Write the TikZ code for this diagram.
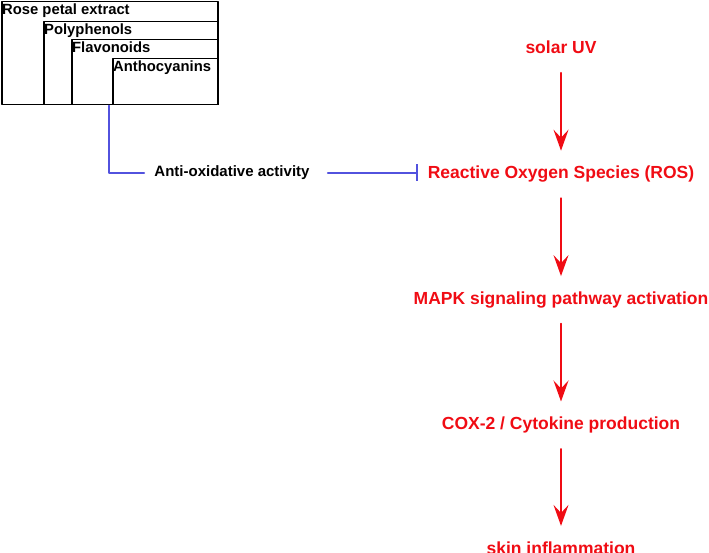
\documentclass[tikz,border=0pt]{standalone}
\usepackage{fontspec}
\setmainfont{Liberation Sans}
\usetikzlibrary{arrows.meta}
\usetikzlibrary{positioning}
\definecolor{uvred}{RGB}{240,12,20}
\definecolor{inhblue}{RGB}{82,82,222}

\begin{document}
\begin{tikzpicture}[line cap=round,line join=round,x=1pt,y=-1pt,
  extbox/.style={draw=black,line width=1.5pt,inner sep=0pt,anchor=north west},
  boxtext/.style={inner sep=0pt,anchor=base west,font=\fontsize{14.8}{16}\bfseries\selectfont},
  pathnode/.style={text=uvred,inner xsep=10pt,inner ysep=15pt,text height=13pt,text depth=4pt,
    font=\fontsize{17.5}{20}\bfseries\selectfont},
  act/.style={draw=uvred,line width=1.5pt,-{Stealth[length=21pt,width=15pt,inset=8pt]}},
  inhib/.style={draw=inhblue,line width=1.5pt}]
\useasboundingbox (0,0) rectangle (709,553);
% nested extract boxes
\node[extbox,minimum width=216pt,minimum height=103pt] (rose) at (1,1) {};
\node[extbox,minimum width=174pt,minimum height=83pt] (poly) at (43,21) {};
\node[extbox,minimum width=146pt,minimum height=65pt] (flav) at (71,39) {};
\node[extbox,minimum width=105pt,minimum height=46pt] (anth) at (112,58) {};
\node[boxtext] (rosetxt) at ([shift={(1,13.5)}]rose.north west) {Rose petal extract};
\node[boxtext] (polytxt) at ([shift={(1,13.5)}]poly.north west) {Polyphenols};
\node[boxtext] (flavtxt) at ([shift={(1,13.5)}]flav.north west) {Flavonoids};
\node[boxtext] (anthtxt) at ([shift={(1,13.5)}]anth.north west) {Anthocyanins};
% UV pathway
\node[pathnode] (uv) at (561,49) {solar UV};
\node[pathnode,below=78pt of uv] (ros) {Reactive Oxygen Species (ROS)};
\node[pathnode,below=78pt of ros] (mapk) {MAPK signaling pathway activation};
\node[pathnode,below=78pt of mapk] (cox) {COX-2 / Cytokine production};
\node[pathnode,below=77pt of cox] (skin) {skin inflammation};
\foreach \a/\b in {uv/ros,ros/mapk,mapk/cox,cox/skin}
\draw[act] (\a) -- (\b);
% inhibition
\node[inner xsep=10pt,font=\fontsize{15}{17}\bfseries\selectfont] (anti) at (232,173) {Anti-oxidative activity};
\draw[inhib] ([xshift=-3pt]anth.south west) |- (anti.west);
\draw[inhib,shorten <=8pt,-{Bar[width=17pt]}] (anti.east) -- (anti.east -| ros.west);
\end{tikzpicture}
\end{document}
